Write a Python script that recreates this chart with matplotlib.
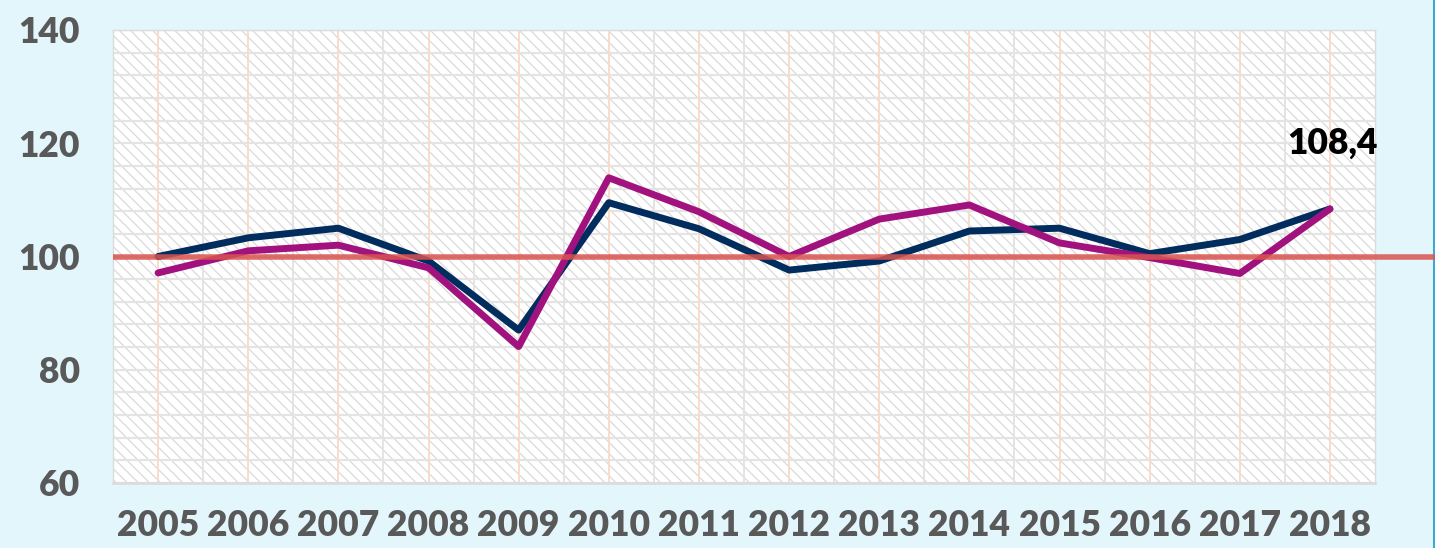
import matplotlib
matplotlib.use("Agg")
import matplotlib.pyplot as plt
from matplotlib.patches import Rectangle
from matplotlib.lines import Line2D
from matplotlib.transforms import blended_transform_factory

years = ["2005", "2006", "2007", "2008", "2009", "2010", "2011",
         "2012", "2013", "2014", "2015", "2016", "2017", "2018"]
series_navy = [100.0, 103.3, 105.0, 99.2, 87.0, 109.5, 104.9,
               97.6, 99.2, 104.5, 105.0, 100.5, 103.0, 108.4]
series_magenta = [97.1, 101.0, 102.0, 98.0, 84.1, 113.9, 107.9,
                  100.0, 106.6, 109.1, 102.4, 99.8, 97.0, 108.4]
reference_level = 100
y_ticks = [60, 80, 100, 120, 140]

plt.rcParams['font.family'] = ['Lato', 'DejaVu Sans']
plt.rcParams['hatch.linewidth'] = 0.9
plt.rcParams['hatch.color'] = '#dadada'

bg = '#e3f6fc'
txt = '#595959'
fs = 25.5
wt = 'heavy'

fig = plt.figure(figsize=(14.35, 5.48), dpi=100, facecolor=bg)
ax = fig.add_axes([113/1435, 65/548, (1375-113)/1435, (483-30)/548])
ax.set_facecolor('white')

x = list(range(len(years)))
ax.set_xlim(-0.5, len(years) - 0.5)
ax.set_ylim(60, 140)

# hatched background
ax.add_patch(Rectangle((0, 0), 1, 1, transform=ax.transAxes, facecolor='white',
                       edgecolor='#dadada', hatch='\\\\\\', linewidth=0, zorder=0))

# grid lines
for v in range(60, 141, 4):
    ax.axhline(v, color='#e4e4e4', lw=1.6, zorder=1)
for i in x:
    ax.axvline(i, color='#f9dccb', lw=1.4, zorder=1)
for i in x[:-1]:
    ax.axvline(i + 0.5, color='#e4e4e4', lw=1.4, zorder=1)

# reference line at 100, running from the plot's left edge to the figure edge
ref_tr = blended_transform_factory(fig.transFigure, ax.transData)
fig.add_artist(Line2D([113/1435, 1.0], [reference_level] * 2, transform=ref_tr,
                      color='#d9534f', alpha=0.85, lw=4, solid_capstyle='butt',
                      zorder=2.5))

ax.plot(x, series_navy, color='#002d5e', lw=5, zorder=3, solid_capstyle='round',
        solid_joinstyle='round')
ax.plot(x, series_magenta, color='#a2127f', lw=5, zorder=4, solid_capstyle='round',
        solid_joinstyle='round')

last = series_magenta[-1]
ax.annotate(f"{last:.1f}".replace('.', ','), xy=(x[-1], last), xytext=(2, 47),
            textcoords='offset points', ha='center', va='center',
            fontsize=fs, fontweight=wt, color='black', zorder=5)

ax.set_xticks(x)
ax.set_xticklabels(years)
ax.set_yticks(y_ticks)
ax.tick_params(axis='both', length=0, labelsize=fs, labelcolor=txt)
ax.tick_params(axis='x', pad=19)
ax.tick_params(axis='y', pad=24)
for lab in ax.get_xticklabels() + ax.get_yticklabels():
    lab.set_fontweight(wt)

for s in ax.spines.values():
    s.set_color('#dcdcdc')
    s.set_linewidth(1)
ax.spines['bottom'].set_linewidth(2)

fig.add_artist(Line2D([1433.5/1435, 1433.5/1435], [0, 1], transform=fig.transFigure,
                      color='#3fa9d6', lw=1.5))

fig.savefig('out.png', dpi=100, facecolor=bg)
